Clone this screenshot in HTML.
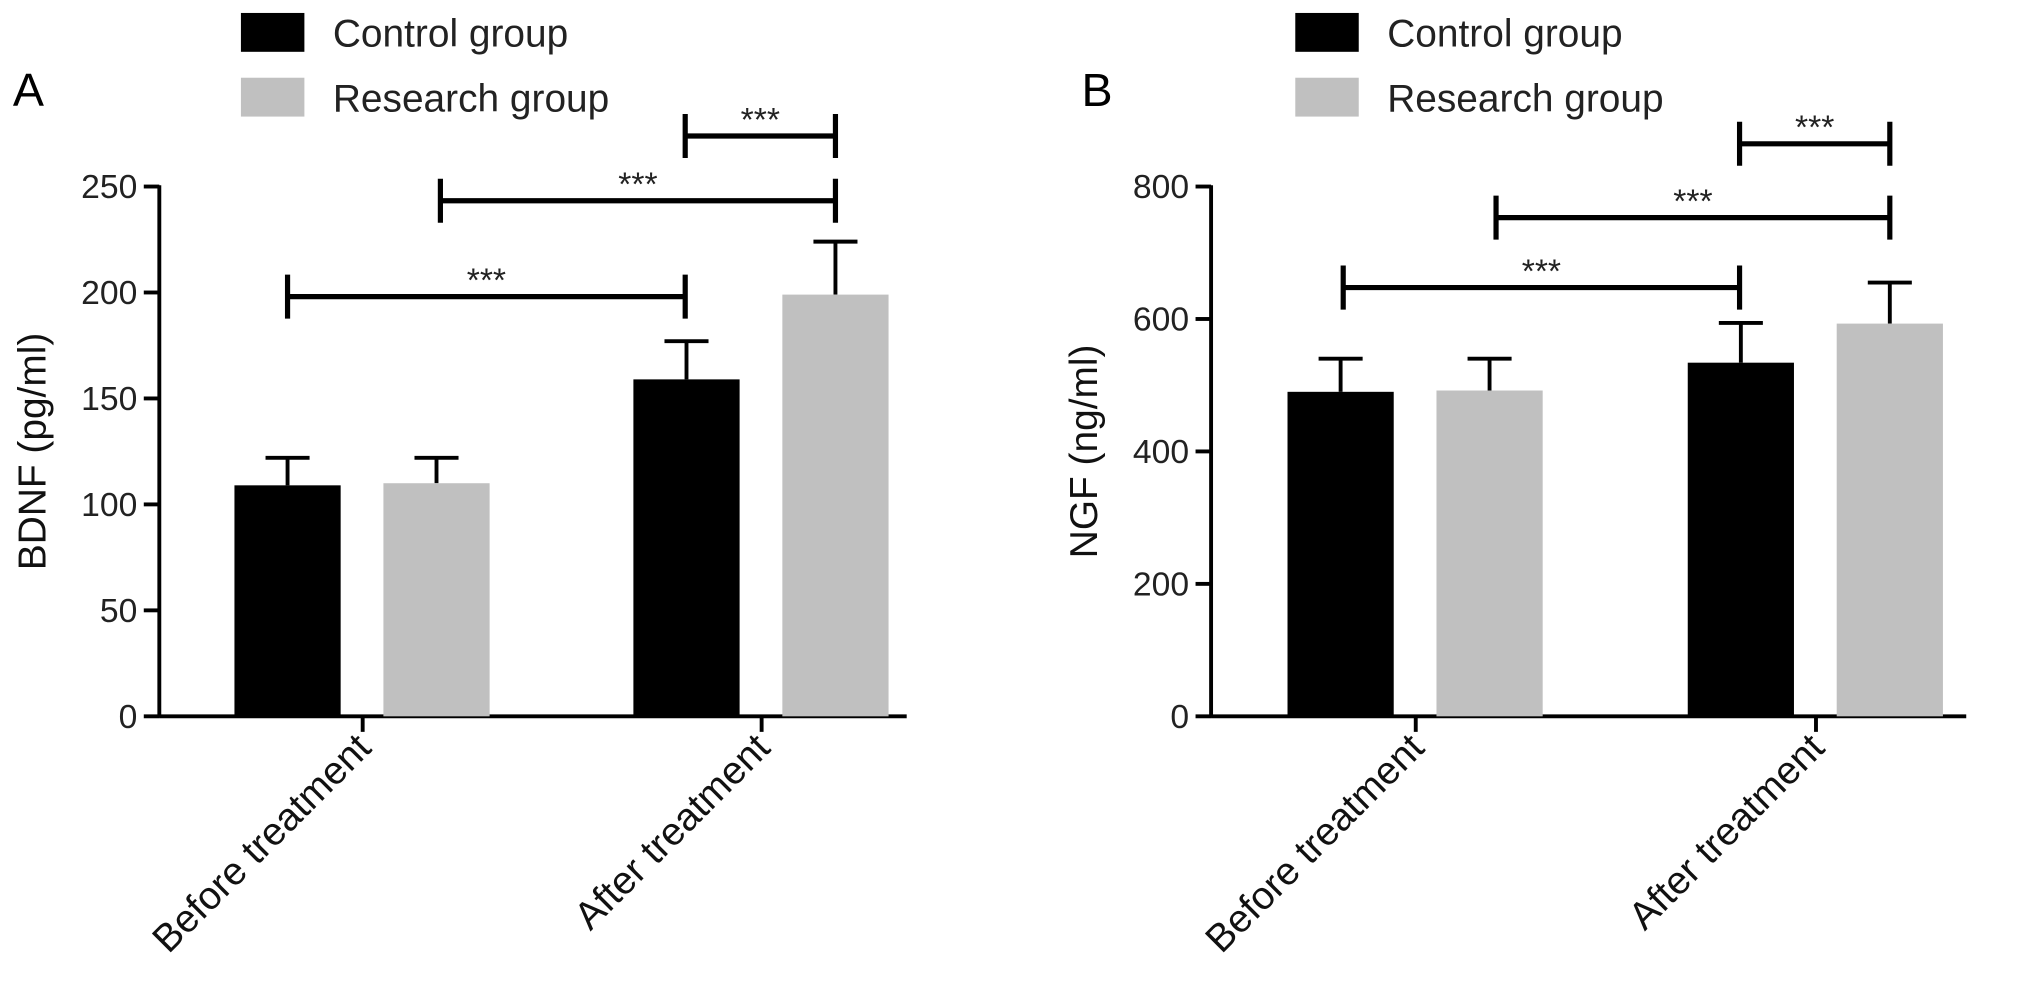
<!DOCTYPE html>
<html><head><meta charset="utf-8"><style>
body{margin:0;background:#fff;}
svg{display:block;font-family:"Liberation Sans",Arial,sans-serif;}
</style></head><body>
<svg id="chart" width="2031" height="1000" viewBox="0 0 1568 772" preserveAspectRatio="none"></svg>
<script>
const categories = ["Before treatment","After treatment"];
const seriesNames = ["Control group","Research group"];
const bdnfMeans = [[109,159],[110,199]];
const bdnfErr = [[13,18],[12,25]];
const bdnfTicks = [0,50,100,150,200,250];
const ngfMeans = [[490,534],[492,593]];
const ngfErr = [[50,60],[48,62]];
const ngfTicks = [0,200,400,600,800];
const colors = ["#000000","#c0c0c0"];

const NS="http://www.w3.org/2000/svg";
const svg=document.getElementById('chart');
function mk(tag,attrs,parent,text){const e=document.createElementNS(NS,tag);for(const k in attrs)e.setAttribute(k,attrs[k]);if(text!==undefined)e.textContent=text;(parent||svg).appendChild(e);return e;}

function panel(cfg){
  const g=mk('g',{});
  
  
  const y0=553,yTop=144;
  const ys=v=>y0-(v/cfg.max)*(y0-yTop);
  const ax=mk('line',{x1:cfg.ax,y1:yTop-1,x2:cfg.ax,y2:y0+1,stroke:'#000','stroke-width':3},g);
  
  const xa=mk('line',{x1:cfg.ax,y1:y0,x2:cfg.axEnd,y2:y0,stroke:'#000','stroke-width':3},g);
  
  cfg.ticks.forEach(t=>{
    mk('line',{x1:cfg.ax-12,y1:ys(t),x2:cfg.ax,y2:ys(t),stroke:'#000','stroke-width':3},g);
    const tl=mk('text',{x:cfg.ax-17,y:ys(t)+9,'text-anchor':'end','font-size':26,fill:'#222'},g,String(t));
    
  });
  const yt=mk('text',{x:0,y:0,transform:`translate(${cfg.ax-88},${(y0+yTop)/2}) rotate(-90)`,'text-anchor':'middle','font-size':30,fill:'#111'},g,cfg.ytitle);
  
  categories.forEach((c,ci)=>{
    const cx=cfg.cat[ci];
    mk('line',{x1:cx,y1:y0,x2:cx,y2:y0+12,stroke:'#000','stroke-width':3},g);
    const cl=mk('text',{x:0,y:0,transform:`translate(${cx+8},${y0+26}) rotate(-45)`,'text-anchor':'end','font-size':30,fill:'#111'},g,c);
    
    seriesNames.forEach((s,si)=>{
      const x=cx-99+si*115, w=82, v=cfg.means[si][ci], e=cfg.err[si][ci];
      const ex=x+w/2;
      mk('line',{x1:ex,y1:ys(v),x2:ex,y2:ys(v+e),stroke:'#000','stroke-width':3},g);
      mk('line',{x1:ex-17,y1:ys(v+e),x2:ex+17,y2:ys(v+e),stroke:'#000','stroke-width':3},g);
      const b=mk('rect',{x:x,y:ys(v),width:w,height:y0-ys(v),fill:colors[si]},g);
      
      
    });
  });
  cfg.brackets.forEach(br=>{
    const bg=mk('g',{},g);
    
    mk('line',{x1:br[0],y1:br[2],x2:br[1],y2:br[2],stroke:'#000','stroke-width':4},bg);
    mk('line',{x1:br[0],y1:br[2]-17,x2:br[0],y2:br[2]+17,stroke:'#000','stroke-width':4},bg);
    mk('line',{x1:br[1],y1:br[2]-17,x2:br[1],y2:br[2]+17,stroke:'#000','stroke-width':4},bg);
    mk('text',{x:(br[0]+br[1])/2,y:br[2]-4,'text-anchor':'middle','font-size':26,fill:'#222'},bg,'***');
  });
  seriesNames.forEach((s,si)=>{
    const r=mk('rect',{x:cfg.legX,y:10+si*50,width:49,height:30,fill:colors[si]},g);
    
    const t=mk('text',{x:cfg.legX+71,y:36+si*50,'font-size':30,fill:'#222'},g,s);
    
  });
  const L=mk('text',{x:cfg.letterX,y:82,'font-size':36,fill:'#000'},g,cfg.letter);
  
}
panel({name:'panel-a-bdnf',ax:123,axEnd:700,max:250,ticks:bdnfTicks,means:bdnfMeans,err:bdnfErr,cat:[280,588],ytitle:'BDNF (pg/ml)',
  brackets:[[222,529,229],[340,645,155],[529,645,105]],legX:186,letter:'A',letterX:10});
panel({name:'panel-b-ngf',ax:935,axEnd:1518,max:800,ticks:ngfTicks,means:ngfMeans,err:ngfErr,cat:[1093,1402],ytitle:'NGF (ng/ml)',
  brackets:[[1037,1343,222],[1155,1459,168],[1343,1459,111]],legX:1000,letter:'B',letterX:835});
</script>
</body></html>
